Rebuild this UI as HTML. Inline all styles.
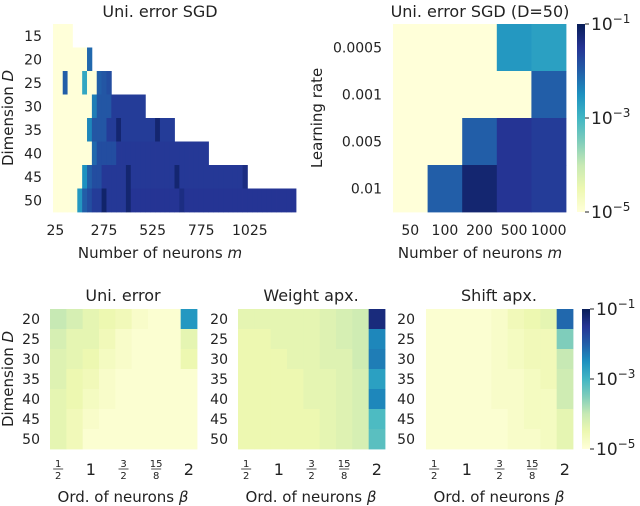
<!DOCTYPE html>
<html><head><meta charset="utf-8"><style>
html,body{margin:0;padding:0;background:#fff;width:640px;height:506px;overflow:hidden}
svg text{font-family:"DejaVu Sans","Liberation Sans",sans-serif;fill:#222}
</style></head><body>
<svg id="fig" width="640" height="506" viewBox="0 0 640 506" xmlns="http://www.w3.org/2000/svg">
<defs>
<linearGradient id="cbg" x1="0" y1="1" x2="0" y2="0">
<stop offset="0" stop-color="#ffffd9"/><stop offset="0.125" stop-color="#edf8b1"/><stop offset="0.25" stop-color="#c7e9b4"/><stop offset="0.375" stop-color="#7fcdbb"/><stop offset="0.5" stop-color="#41b6c4"/><stop offset="0.625" stop-color="#1d91c0"/><stop offset="0.75" stop-color="#225ea8"/><stop offset="0.875" stop-color="#253494"/><stop offset="1" stop-color="#081d58"/>
</linearGradient>
</defs>
</svg>
<script>
// ---------- data ----------
const sgdRowLabels = [15,20,25,30,35,40,45,50];
const sgdXTicks = [25,275,525,775,1025];
const sgdRow15 = [-5,-5,-5,-5];
const sgdRow20 = [-5,-5,-5,-5,-5,-5,-5,-2.1];
const sgdRow25 = [-5,-5,-2.0,-5,-5,-5,-2.8,-5,-5,-2.0,-1.9,-1.8];
const sgdRow30 = [-5,-5,-5,-5,-5,-5,-5,-5,-2.3,-1.9,-1.9,-1.9,-1.6,-1.6,-1.6,-1.6,-1.6,-1.6,-1.6];
const sgdRow35 = [-5,-5,-5,-5,-5,-5,-5,-2.4,-1.9,-1.9,-1.9,-1.6,-1.6,-1.2,-1.6,-1.6,-1.6,-1.6,-1.6,-1.6,-1.6,-1.2,-1.6,-1.6,-1.6];
const sgdRow40 = [-5,-5,-5,-5,-5,-5,-5,-5,-2.1,-1.8,-1.8,-1.8,-1.8,-1.55,-1.55,-1.55,-1.55,-1.55,-1.55,-1.55,-1.55,-1.55,-1.55,-1.55,-1.55,-1.55,-1.55,-1.55,-1.55,-1.55,-1.55,-1.55];
const sgdRow45 = [-5,-5,-5,-5,-5,-5,-2.5,-2.0,-1.8,-1.8,-1.55,-1.55,-1.55,-1.55,-1.55,-1.2,-1.55,-1.55,-1.55,-1.55,-1.55,-1.55,-1.55,-1.55,-1.55,-1.2,-1.55,-1.55,-1.55,-1.55,-1.55,-1.55,-1.55,-1.55,-1.55,-1.55,-1.55,-1.55,-1.55,-1.35];
const sgdRow50 = [-5,-5,-5,-5,-5,-2.6,-2.0,-1.8,-1.6,-1.6,-1.15,-1.55,-1.55,-1.55,-1.55,-1.2,-1.5,-1.5,-1.5,-1.5,-1.5,-1.5,-1.5,-1.5,-1.5,-1.5,-1.35,-1.5,-1.5,-1.5,-1.5,-1.5,-1.5,-1.5,-1.5,-1.5,-1.5,-1.5,-1.5,-1.5,-1.5,-1.5,-1.5,-1.5,-1.5,-1.5,-1.5,-1.5,-1.5,-1.5];
const sgdRows = [sgdRow15,sgdRow20,sgdRow25,sgdRow30,sgdRow35,sgdRow40,sgdRow45,sgdRow50];

const lrLabels = ['0.0005','0.001','0.005','0.01'];
const lrNeurons = ['50','100','200','500','1000'];
const lrRow0005 = [-5,-5,-5,-2.6,-2.7];
const lrRow001 = [-5,-5,-5,-5,-2.0];
const lrRow005 = [-5,-5,-2.0,-1.5,-1.6];
const lrRow01 = [-5,-2.0,-1.2,-1.5,-1.6];
const lrRows = [lrRow0005,lrRow001,lrRow005,lrRow01];

const dimLabels = [20,25,30,35,40,45,50];
const betaTickCols = [0,2,4,6,8];
const uniErr = [
 [-4.0,-4.2,-4.4,-4.5,-4.6,-4.8,-4.9,-4.9,-2.6],
 [-4.2,-4.4,-4.4,-4.6,-4.8,-4.9,-4.9,-4.9,-4.4],
 [-4.3,-4.4,-4.5,-4.7,-4.8,-4.9,-4.9,-4.9,-4.5],
 [-4.3,-4.5,-4.6,-4.8,-4.9,-4.9,-4.9,-4.9,-4.9],
 [-4.4,-4.5,-4.7,-4.8,-4.9,-4.9,-4.9,-4.9,-4.9],
 [-4.4,-4.6,-4.8,-4.9,-4.9,-4.9,-4.9,-4.9,-4.9],
 [-4.4,-4.6,-4.9,-4.9,-4.9,-4.9,-4.9,-4.9,-4.9]];
const weightApx = [
 [-4.4,-4.4,-4.4,-4.4,-4.4,-4.3,-4.2,-4.1,-1.3],
 [-4.5,-4.5,-4.4,-4.4,-4.4,-4.3,-4.2,-4.1,-2.4],
 [-4.5,-4.5,-4.5,-4.4,-4.4,-4.3,-4.3,-4.1,-2.3],
 [-4.5,-4.5,-4.5,-4.5,-4.4,-4.4,-4.3,-4.2,-2.7],
 [-4.5,-4.5,-4.5,-4.5,-4.4,-4.4,-4.3,-4.2,-2.4],
 [-4.5,-4.5,-4.5,-4.5,-4.5,-4.4,-4.3,-4.2,-3.1],
 [-4.5,-4.5,-4.5,-4.5,-4.5,-4.4,-4.3,-4.2,-3.2]];
const shiftApx = [
 [-4.9,-4.9,-4.9,-4.9,-4.8,-4.6,-4.5,-4.4,-2.1],
 [-4.9,-4.9,-4.9,-4.9,-4.8,-4.7,-4.6,-4.6,-3.5],
 [-4.9,-4.9,-4.9,-4.9,-4.8,-4.7,-4.6,-4.6,-4.0],
 [-4.9,-4.9,-4.9,-4.9,-4.8,-4.8,-4.7,-4.6,-4.1],
 [-4.9,-4.9,-4.9,-4.9,-4.8,-4.8,-4.7,-4.7,-4.1],
 [-4.9,-4.9,-4.9,-4.9,-4.9,-4.8,-4.7,-4.7,-4.4],
 [-4.9,-4.9,-4.9,-4.9,-4.9,-4.8,-4.8,-4.7,-4.4]];

// ---------- helpers ----------
const NS='http://www.w3.org/2000/svg';
const svg=document.getElementById('fig');
const stops=[[255,255,217],[237,248,177],[199,233,180],[127,205,187],[65,182,196],[29,145,192],[34,94,168],[37,52,148],[8,29,88]];
function color(v){let t=(v+5)/4;t=Math.max(0,Math.min(1,t));const p=t*8;const i=Math.min(7,Math.floor(p));const f=p-i;const a=stops[i],b=stops[i+1];return 'rgb('+a.map((c,k)=>Math.round(c+(b[k]-c)*f)).join(',')+')';}
function mk(tag,attrs,parent){const e=document.createElementNS(NS,tag);for(const k in attrs)e.setAttribute(k,attrs[k]);(parent||svg).appendChild(e);return e;}
function txt(x,y,s,opts,parent){const e=mk('text',Object.assign({x:x,y:y,'font-size':14,'text-anchor':'middle'},opts||{}),parent);e.textContent=s;return e;}
function cell(x,y,w,h,v,g){const r=mk('rect',{x:x,y:y,width:w+0.4,height:h+0.4,fill:color(v)},g);

}

// ---------- panel A: Uni. error SGD ----------
(function(){
 const g=mk('g',{});
 
 
 const x0=53,y0=24,cw=243/50,rh=188/8;
 const xs=m=>x0+(m-25)/25*cw+cw/2;
 sgdRows.forEach((row,i)=>row.forEach((v,j)=>cell(x0+j*cw,y0+i*rh,cw,rh,v,g)));
 sgdRowLabels.forEach((l,i)=>{const t=txt(42,y0+i*rh+rh/2+5,String(l),{'text-anchor':'end'});});
 sgdXTicks.forEach(m=>{const t=txt(xs(m),235,String(m));});
 const tt=txt(160,17,'Uni. error SGD',{'font-size':16});
 const xl=txt(160,258,'',{'font-size':15});xl.innerHTML='Number of neurons <tspan font-style="italic">m</tspan>';
 const yl=txt(0,0,'',{'font-size':15,transform:'translate(13,118) rotate(-90)'});yl.innerHTML='Dimension <tspan font-style="italic">D</tspan>';
})();

// ---------- panel B: learning rate ----------
(function(){
 const g=mk('g',{});
 
 
 const x0=393,y0=24,cw=173/5,rh=188/4;
 lrRows.forEach((row,i)=>row.forEach((v,j)=>cell(x0+j*cw,y0+i*rh,cw,rh,v,g)));
 lrLabels.forEach((l,i)=>{const t=txt(382,y0+i*rh+rh/2+5,l,{'text-anchor':'end'});});
 lrNeurons.forEach((l,j)=>{const t=txt(x0+j*cw+cw/2,235,l);});
 const tt=txt(480,17,'Uni. error SGD (D=50)',{'font-size':16});
 const xl=txt(480,258,'',{'font-size':15});xl.innerHTML='Number of neurons <tspan font-style="italic">m</tspan>';
 const yl=txt(0,0,'Learning rate',{'font-size':15,transform:'translate(322,118) rotate(-90)'});
})();

function colorbar(x,y,h,name){
 const g=mk('g',{});
 
 
 mk('rect',{x:x,y:y,width:8,height:h,fill:'url(#cbg)'},g);
 [-1,-3,-5].forEach((p,k)=>{const yy=y+h*k/2;mk('line',{x1:x+8,x2:x+12,y1:yy,y2:yy,stroke:'#222','stroke-width':1},g);
  const t=txt(x+14,yy+6,'',{'text-anchor':'start','font-size':17},g);t.innerHTML='10<tspan dy="-7" font-size="12">'+(p<0?'\u2212':'')+Math.abs(p)+'</tspan>';});
}
colorbar(577,24,188,'colorbar-top');

// ---------- bottom panels ----------
function beta(x,y,n,d,g){if(d==null){txt(x,y+6,n,{'font-size':16},g);return;}
 txt(x,y-2,n,{'font-size':10},g);mk('line',{x1:x-5,x2:x+5,y1:y,y2:y,stroke:'#222','stroke-width':0.8},g);txt(x,y+10,d,{'font-size':10},g);}
const betaNum=['1','1','3','15','2'];
const betaDen=['2',null,'2','8',null];
function bottom(x0,data,title,name,ylabX){
 const g=mk('g',{});
 
 
 const y0=309,cw=147/9,rh=140/7;
 data.forEach((row,i)=>row.forEach((v,j)=>cell(x0+j*cw,y0+i*rh,cw,rh,v,g)));
 dimLabels.forEach((l,i)=>txt(ylabX,y0+i*rh+rh/2+5,String(l),{'text-anchor':'end'},g));
 betaTickCols.forEach((c,k)=>beta(x0+c*cw+cw/2,469,betaNum[k],betaDen[k],g));
 txt(x0+73,301,title,{'font-size':16},g);
 const xl=txt(x0+73,502,'',{'font-size':15},g);xl.innerHTML='Ord. of neurons <tspan font-style="italic">\u03B2</tspan>';
}
bottom(50,uniErr,'Uni. error','uni-error-heatmap',40);
bottom(238,weightApx,'Weight apx.','weight-apx-heatmap',228);
bottom(426,shiftApx,'Shift apx.','shift-apx-heatmap',415);
(function(){const yl=txt(0,0,'',{'font-size':15,transform:'translate(13,379) rotate(-90)'});yl.innerHTML='Dimension <tspan font-style="italic">D</tspan>';})();
colorbar(582,309,140,'colorbar-bottom');
</script>
</body></html>
